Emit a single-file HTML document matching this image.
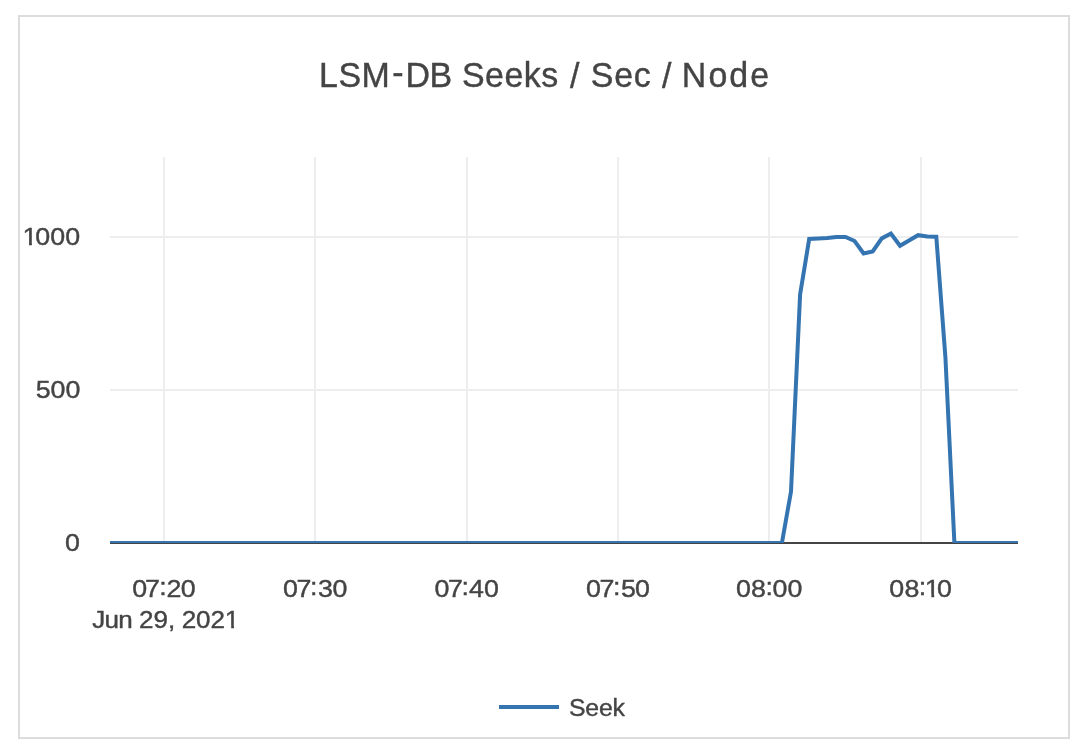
<!DOCTYPE html>
<html><head><meta charset="utf-8"><title>LSM-DB Seeks / Sec / Node</title>
<style>
html,body{margin:0;padding:0;background:#fff;}
body{width:1080px;height:748px;position:relative;overflow:hidden;font-family:"Liberation Sans",sans-serif;}
.box{position:absolute;left:18px;top:15px;width:1048px;height:720px;border:2px solid #dcdcde;background:#fff;}
svg{position:absolute;left:0;top:0;}
svg text{font-family:"Liberation Sans",sans-serif;fill:#444444;stroke:#444444;stroke-width:0.4px;white-space:pre;}
</style></head>
<body>
<div class="box"></div>
<svg width="1080" height="748" viewBox="0 0 1080 748">
<defs><clipPath id="plot"><rect x="110" y="156" width="908" height="387"/></clipPath></defs>
<rect x="163" y="157" width="2" height="386" fill="#eeeeee"/>
<rect x="314" y="157" width="2" height="386" fill="#eeeeee"/>
<rect x="466" y="157" width="2" height="386" fill="#eeeeee"/>
<rect x="617" y="157" width="2" height="386" fill="#eeeeee"/>
<rect x="768" y="157" width="2" height="386" fill="#eeeeee"/>
<rect x="920" y="157" width="2" height="386" fill="#eeeeee"/>
<rect x="110" y="236" width="908" height="2" fill="#eeeeee"/>
<rect x="110" y="389" width="908" height="2" fill="#eeeeee"/>
<rect x="110" y="542" width="908" height="2" fill="#444444"/>
<g clip-path="url(#plot)"><path d="M110.0,543.0 L781.9,543.0 L791.0,491.5 L800.1,294.5 L809.2,239.0 L818.2,238.5 L827.3,238.0 L836.4,237.0 L845.5,237.0 L854.6,241.0 L863.6,253.4 L872.7,251.4 L881.8,238.4 L890.9,233.6 L900.0,245.8 L909.0,240.5 L918.1,235.2 L927.2,236.6 L936.3,236.8 L945.4,357.0 L954.4,543.0 L1018.0,543.0" fill="none" stroke="#3474b1" stroke-width="4" stroke-linejoin="miter" stroke-miterlimit="2"/></g>
<rect x="499" y="705" width="60" height="4" fill="#3474b1"/>
<text transform="translate(0,86.90) scale(0.97,1)" font-size="35" x="328.92 348.87 372.71 404.46 418.09 442.80 466.15 476.24 500.10 520.08 540.06 558.07 575.57 587.58 597.30 609.02 633.14 653.38 670.88 682.42 692.15 702.94 730.34 751.94 773.54" dy="0 0 0 -3.2 3.2 0 0 0 0 0 0 0 0 1.2 0 -1.2 0 0 0 1.2 0 -1.2 0 0 0">LSM-DB Seeks / Sec / Node</text>
<text transform="translate(0,244.80) scale(1.08,1)" font-size="24.8" x="20.88 32.55 46.48 60.41">1000</text>
<text transform="translate(0,397.80) scale(1.08,1)" font-size="24.8" x="33.15 46.85 60.55">500</text>
<text transform="translate(0,550.80) scale(1.08,1)" font-size="24.8" x="60.25">0</text>
<text transform="translate(0,596.80) scale(1.08,1)" font-size="24.8" x="122.45 134.35 147.55 154.21 167.45" dy="0 0 -2 2 0">07:20</text>
<text transform="translate(0,596.80) scale(1.08,1)" font-size="24.8" x="262.13 274.44 287.08 294.54 307.91" dy="0 0 -2 2 0">07:30</text>
<text transform="translate(0,596.80) scale(1.08,1)" font-size="24.8" x="402.27 414.86 427.31 434.35 448.14" dy="0 0 -2 2 0">07:40</text>
<text transform="translate(0,596.80) scale(1.08,1)" font-size="24.8" x="542.69 555.00 567.64 575.09 588.01" dy="0 0 -2 2 0">07:50</text>
<text transform="translate(0,596.80) scale(1.08,1)" font-size="24.8" x="681.44 695.27 708.84 715.37 729.26" dy="0 0 -2 2 0">08:00</text>
<text transform="translate(0,596.80) scale(1.08,1)" font-size="24.8" x="823.43 837.50 850.65 856.34 867.66" dy="0 0 -2 2 0">08:10</text>
<text transform="translate(0,627.70) scale(1.05,1)" font-size="24.8" x="87.81 99.47 112.53 126.32 132.43 146.17 159.92 166.81 173.05 186.74 200.44 214.14">Jun 29, 2021</text>
<text transform="translate(0,715.80) scale(1,1)" font-size="24.8" x="569.00 585.32 598.90 612.48">Seek</text>
<rect x="23.78" y="242.40" width="5.25" height="3.85" fill="#fff"/>
<rect x="31.90" y="242.40" width="5.49" height="3.85" fill="#fff"/>
<rect x="926.08" y="594.40" width="5.25" height="3.85" fill="#fff"/>
<rect x="934.20" y="594.40" width="5.49" height="3.85" fill="#fff"/>
<rect x="226.03" y="625.30" width="5.12" height="3.85" fill="#fff"/>
<rect x="233.95" y="625.30" width="5.36" height="3.85" fill="#fff"/>
</svg>
</body></html>
